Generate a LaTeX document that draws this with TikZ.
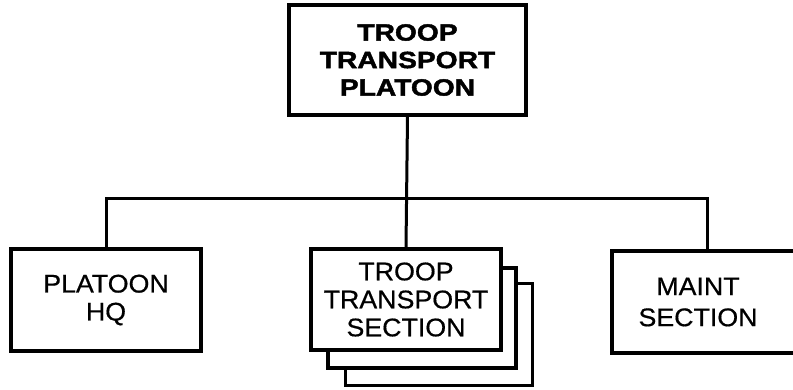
\documentclass[tikz,border=0pt]{standalone}
\usepackage{fontspec}
\setmainfont{Liberation Sans}
\newfontfamily\regfont[FakeStretch=1.05,FakeBold=0.6]{Liberation Sans}
\newfontfamily\boldfont[FakeStretch=1.2,FakeBold=1.8]{Liberation Sans Bold}
\begin{document}
\begin{tikzpicture}[x=1pt,y=-1pt,
  unitbox/.style={draw=black, line width=3.2pt, fill=white, rectangle, inner sep=0pt,
    align=center, font=\regfont\fontsize{25.5}{28}\selectfont},
  topbox/.style={unitbox, font=\boldfont\fontsize{23.5}{27.5}\selectfont},
  conn/.style={draw=black, line width=3pt}]
\useasboundingbox (0,0) rectangle (793,389);
\clip (0,0) rectangle (793,389);
% top
\node[topbox, minimum width=237pt, minimum height=110pt] (top) at (407.5,60) {TROOP\\TRANSPORT\\PLATOON};
% left
\node[unitbox, minimum width=190pt, minimum height=102pt] (hq) at (106,300) {PLATOON\\HQ};
% middle stack
\node[unitbox, minimum width=187pt, minimum height=102pt] (back2) at (439,334.5) {};
\node[unitbox, minimum width=188pt, minimum height=100pt] (back1) at (422,318) {};
\node[unitbox, minimum width=190pt, minimum height=101pt] (tts) at (406,299.5) {TROOP\\TRANSPORT\\SECTION};
% right
\node[unitbox, minimum width=190pt, minimum height=102pt] (mnt) at (707,302) {};
\node[font=\regfont\fontsize{25.5}{31}\selectfont, align=center, inner sep=0pt] (mntlabel) at (698,302) {MAINT\\SECTION};
% connectors
\coordinate (bus) at (407,198);
\draw[conn] (top.south) -- (tts.north);
\draw[conn] (hq.north) |- (bus) -| (mnt.north);
\end{tikzpicture}
\end{document}
